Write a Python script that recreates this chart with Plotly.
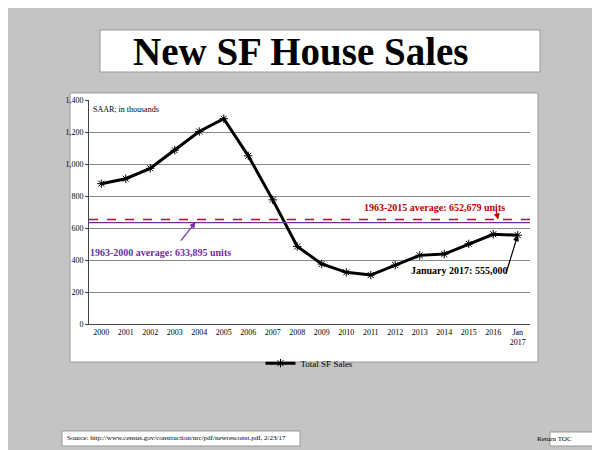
import plotly.graph_objects as go

years = ["2000", "2001", "2002", "2003", "2004", "2005", "2006", "2007", "2008",
         "2009", "2010", "2011", "2012", "2013", "2014", "2015", "2016", "Jan<br>2017"]
sales = [877, 908, 973, 1086, 1203, 1283, 1051, 776, 485,
         375, 323, 306, 368, 429, 437, 501, 561, 555]
avg_1963_2015 = 652.679
avg_1963_2000 = 633.895
x = list(range(len(years)))

SERIF = "Liberation Serif"
PURPLE = "#7030a0"
RED = "#c00000"
# the page puts the figure 8px in from the window corner
OFF = 8
L, T, PW, PH = 89, 100, 441, 224


def px(v):
    return (v - L) / PW


def py(v):
    return (T + PH - v) / PH


fig = go.Figure()
fig.add_trace(go.Scatter(
    x=x, y=sales, mode="lines+markers", name="Total SF Sales",
    line=dict(color="black", width=3),
    marker=dict(symbol="asterisk", size=7, color="black", line=dict(color="black", width=1)),
))

# white panels over gray background
panels = [
    (70, 538, 93, 362),
    (100, 540, 30, 72),
    (62, 300, 431, 446),
    (550, 598, 432, 446),
]
for x0, x1, y0, y1 in panels:
    fig.add_shape(type="rect", xref="paper", yref="paper",
                  x0=px(x0), x1=px(x1), y0=py(y1), y1=py(y0),
                  fillcolor="white", line=dict(color="#999", width=1), layer="below")

fig.add_hline(y=avg_1963_2000, line=dict(color=PURPLE, width=1.2))
fig.add_hline(y=avg_1963_2015, line=dict(color="#e00000", width=1.5, dash="dash"))

fig.add_annotation(x=13.6, y=731, text="<b>1963-2015 average: 652,679 units</b>",
                   showarrow=False, font=dict(color=RED, size=10, family=SERIF))
fig.add_annotation(x=16.2, y=avg_1963_2015, ax=16.1, ay=720, axref="x", ayref="y",
                   text="", arrowcolor=RED, arrowwidth=1.2, arrowhead=2)
fig.add_annotation(x=2.4, y=444, text="<b>1963-2000 average: 633,895 units</b>",
                   showarrow=False, font=dict(color=PURPLE, size=10, family=SERIF))
fig.add_annotation(x=3.85, y=637, ax=3.2, ay=512, axref="x", ayref="y",
                   text="", arrowcolor=PURPLE, arrowwidth=1.2, arrowhead=2)
fig.add_annotation(x=14.6, y=337, text="<b>January 2017: 555,000</b>",
                   showarrow=False, font=dict(color="black", size=10, family=SERIF))
fig.add_annotation(x=17, y=556, ax=16.5, ay=306, axref="x", ayref="y",
                   text="", arrowcolor="black", arrowwidth=1.2, arrowhead=2)
fig.add_annotation(x=-0.4, y=1340, text="SAAR; in thousands", xanchor="left",
                   showarrow=False, font=dict(color="black", size=8, family=SERIF))

fig.add_annotation(xref="paper", yref="paper", x=px(300), y=py(51), yanchor="middle",
                   text="<b>New SF House Sales</b>", showarrow=False,
                   font=dict(size=39, family=SERIF, color="black"))
fig.add_annotation(xref="paper", yref="paper", x=px(65), y=py(438), yanchor="middle",
                   xanchor="left", text="Source: http://www.census.gov/construction/nrc/pdf/newresconst.pdf, 2/23/17",
                   showarrow=False, font=dict(size=7, family=SERIF, color="black"))
fig.add_annotation(xref="paper", yref="paper", x=px(574), y=py(439), yanchor="middle",
                   text="Return TOC", showarrow=False, font=dict(size=7, family=SERIF, color="black"))

fig.update_layout(
    width=600 - OFF, height=450 - OFF,
    margin=dict(l=L - OFF, r=600 - L - PW, t=T - OFF, b=450 - T - PH),
    paper_bgcolor="#c4c4c4", plot_bgcolor="white",
    font=dict(family=SERIF, size=8, color="black"),
    showlegend=True,
    legend=dict(orientation="h", x=0.5, xanchor="center", y=-0.11, yanchor="top",
                bgcolor="rgba(0,0,0,0)", font=dict(size=9, family=SERIF)),
    xaxis=dict(range=[-0.5, 17.5], tickvals=x, ticktext=years, showgrid=False,
               showline=True, linecolor="#444", ticks="", zeroline=False),
    yaxis=dict(range=[0, 1400], dtick=200, tickformat=",", showgrid=True, gridcolor="#888",
               showline=True, linecolor="#444", ticks="outside", ticklen=3, zeroline=False),
)

fig.write_html("out.html")
